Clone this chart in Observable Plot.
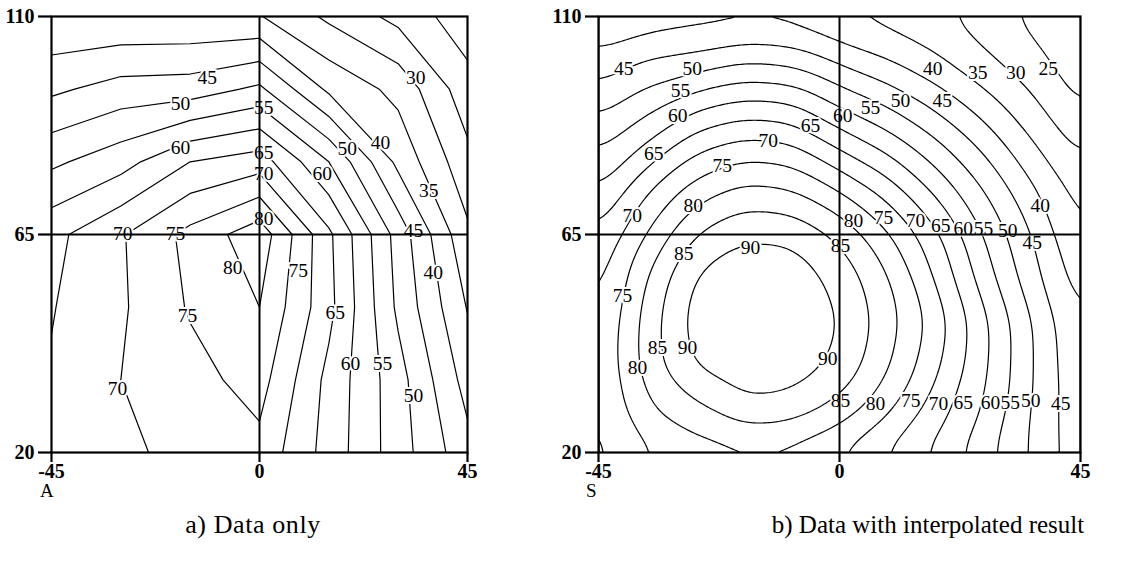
<!DOCTYPE html>
<html><head><meta charset="utf-8">
<script src="https://cdn.jsdelivr.net/npm/d3@7"></script>
<script src="https://cdn.jsdelivr.net/npm/@observablehq/plot@0.6"></script>
<style>
html,body{margin:0;padding:0;background:#fff;}
#wrap{position:relative;width:1124px;height:563px;overflow:hidden;font-family:"Liberation Serif","Times New Roman",serif;color:#000;}
.p{position:absolute;top:0;}
.t{position:absolute;white-space:nowrap;line-height:1;}
</style></head><body>
<div id="wrap">
  <div id="pa" class="p" style="left:0px"></div>
  <div id="pb" class="p" style="left:547px"></div>
  <div class="t" style="left:40px;top:481px;font-size:19px;">A</div>
  <div class="t" style="left:586px;top:481px;font-size:19px;">S</div>
  <div class="t" id="capA" style="left:253px;top:512px;font-size:26px;letter-spacing:0.6px;transform:translateX(-50%);">a) Data only</div>
  <div class="t" id="capB" style="left:928px;top:512px;font-size:25px;transform:translateX(-50%);">b) Data with interpolated result</div>
</div>
<script>
// Axis ticks
const xTicks = [-45, 0, 45];
const yTicks = [20, 65, 110];

// Contour levels
const levelsA = [20, 25, 30, 35, 40, 45, 50, 55, 60, 65, 70, 75, 80];
const levelsB = [15, 20, 25, 30, 35, 40, 45, 50, 55, 60, 65, 70, 75, 80, 85, 90];

// Panel a: measured data (columns x, rows y top to bottom)
const xsA = [-45, -30, -15, 0, 15, 30, 45];
const ysA = [110, 95, 80, 65, 50, 35, 20];
const gridA = [
  [35.5, 35.5, 35.5, 35.3, 29, 23.5, 17],
  [44, 47, 47.5, 51, 39, 33.5, 22],
  [54, 58, 65, 67.5, 55, 38.7, 26.5],
  [63.5, 69.5, 76.5, 83, 66, 48, 31],
  [64.7, 69.3, 75.5, 80, 66.5, 49, 34.7],
  [65.5, 70, 73.2, 77, 63.5, 52, 38],
  [66, 69, 71.5, 73.5, 63, 52.3, 41.7]
];

// Panel b: values
const xsB = [-45, -36, -27, -18, -9, 0, 9, 18, 27, 36, 45];
const ysB = [110, 101, 92, 83, 74, 65, 56, 47, 38, 29, 20];
const gridB = [
  [35.5, 36.5, 37.5, 38, 37.5, 34.5, 33, 31, 27.5, 23.5, 18.5],
  [41.5, 45.4, 46.5, 49.3, 48.3, 43.8, 40, 35.7, 30.8, 27, 21.5],
  [48, 53, 58.3, 61.2, 60.3, 54.1, 49.4, 43.6, 37.3, 31, 24.2],
  [54.3, 60.7, 69, 72.3, 71.2, 64.3, 58.6, 51.7, 44.1, 35.7, 28.7],
  [59.7, 70, 77.5, 81.6, 80.5, 75.1, 68.2, 59, 50.2, 40.9, 32.9],
  [65, 75.3, 85.3, 89.7, 89.3, 84.2, 75.8, 66.5, 54.7, 45, 34.3],
  [67.5, 80.2, 91, 93.2, 93, 88.6, 80.8, 69.5, 57.5, 46.8, 37],
  [69.5, 82.3, 92.5, 94.3, 94, 90.4, 82.3, 73, 61.3, 50, 39.5],
  [70, 82.5, 91, 93.2, 92.8, 89, 80.8, 71.3, 61.1, 50.1, 40.2],
  [69.5, 79.7, 83.8, 89, 88, 83.4, 76.2, 67.5, 59.8, 49.6, 41],
  [68.5, 74.3, 77.3, 78.3, 77.8, 74.5, 69.3, 63.8, 56.8, 49.4, 41.5]
];

// Contour labels (position in data units, text)
const labelsA = [
  {x: -11.3, y: 97.4, t: "45"}, {x: -17.1, y: 92.0, t: "50"}, {x: -17.1, y: 83.0, t: "60"},
  {x: 0.9, y: 91.2, t: "55"}, {x: 0.9, y: 81.9, t: "65"}, {x: 0.9, y: 77.6, t: "70"}, {x: 0.9, y: 68.3, t: "80"},
  {x: 33.8, y: 97.4, t: "30"}, {x: 26.2, y: 84.0, t: "40"}, {x: 19.0, y: 82.8, t: "50"},
  {x: 13.6, y: 77.6, t: "60"}, {x: 36.6, y: 74.1, t: "35"}, {x: 33.3, y: 65.8, t: "45"},
  {x: -29.6, y: 65.2, t: "70"}, {x: -18.2, y: 65.2, t: "75"}, {x: -5.8, y: 58.2, t: "80"},
  {x: -15.6, y: 48.3, t: "75"}, {x: -30.7, y: 33.2, t: "70"},
  {x: 8.4, y: 57.6, t: "75"}, {x: 16.4, y: 48.9, t: "65"}, {x: 19.7, y: 38.4, t: "60"},
  {x: 26.6, y: 38.4, t: "55"}, {x: 33.3, y: 31.8, t: "50"}, {x: 37.6, y: 57.2, t: "40"}
];
const labelsB = [
  {x: -40.3, y: 99.3, t: "45"}, {x: -27.5, y: 99.3, t: "50"}, {x: -29.7, y: 94.7, t: "55"},
  {x: -30.2, y: 89.6, t: "60"}, {x: -34.7, y: 81.7, t: "65"}, {x: -38.7, y: 68.9, t: "70"},
  {x: -21.9, y: 79.2, t: "75"}, {x: -13.3, y: 84.4, t: "70"}, {x: -5.4, y: 87.5, t: "65"},
  {x: -27.3, y: 71.0, t: "80"},
  {x: 17.4, y: 99.3, t: "40"}, {x: 25.8, y: 98.4, t: "35"}, {x: 32.9, y: 98.4, t: "30"},
  {x: 39.0, y: 99.3, t: "25"}, {x: 5.8, y: 91.2, t: "55"}, {x: 11.4, y: 92.7, t: "50"},
  {x: 19.2, y: 92.7, t: "45"}, {x: 0.6, y: 89.6, t: "60"}, {x: 37.5, y: 71.0, t: "40"},
  {x: 2.6, y: 67.9, t: "80"}, {x: 8.2, y: 68.5, t: "75"}, {x: 14.2, y: 67.9, t: "70"},
  {x: 18.9, y: 66.9, t: "65"}, {x: 23.1, y: 66.2, t: "60"}, {x: 26.9, y: 66.2, t: "55"},
  {x: 31.4, y: 65.8, t: "50"}, {x: 36.0, y: 63.3, t: "45"},
  {x: -29.1, y: 61.1, t: "85"}, {x: -16.6, y: 62.3, t: "90"}, {x: 0.2, y: 62.7, t: "85"},
  {x: -40.5, y: 52.4, t: "75"}, {x: -34.0, y: 41.7, t: "85"}, {x: -28.4, y: 41.7, t: "90"},
  {x: -37.7, y: 37.5, t: "80"}, {x: -2.2, y: 39.4, t: "90"},
  {x: 0.2, y: 30.7, t: "85"}, {x: 6.7, y: 30.1, t: "80"}, {x: 13.3, y: 30.7, t: "75"},
  {x: 18.5, y: 30.1, t: "70"}, {x: 23.1, y: 30.3, t: "65"}, {x: 28.2, y: 30.3, t: "60"},
  {x: 31.9, y: 30.3, t: "55"}, {x: 35.7, y: 30.7, t: "50"}, {x: 41.3, y: 30.1, t: "45"}
];

const font = "'Liberation Serif', 'Times New Roman', serif";

function panel(frameWidth, contourMark, labels) {
  return Plot.plot({
    width: 51 + frameWidth + 33,
    height: 490,
    marginLeft: 51, marginRight: 33, marginTop: 16, marginBottom: 38,
    x: {domain: [-45, 45]},
    y: {domain: [20, 110]},
    style: {fontFamily: font, fontSize: "20px", background: "transparent", color: "black", overflow: "visible"},
    marks: [
      contourMark,
      Plot.text(labels, {x: "x", y: "y", text: "t", fontSize: 19.5, fill: "black", stroke: "white", strokeWidth: 4}),
      Plot.ruleX([0], {stroke: "black", strokeWidth: 2}),
      Plot.ruleY([65], {stroke: "black", strokeWidth: 2}),
      Plot.frame({stroke: "black", strokeWidth: 2.2}),
      Plot.axisX(xTicks, {tickSize: 10, tickPadding: 1, strokeWidth: 2.2, fontSize: 20, fontWeight: "bold", label: null, tickFormat: d => String(d)}),
      Plot.axisY(yTicks, {tickSize: 13, tickPadding: 4, strokeWidth: 2.2, fontSize: 20, fontWeight: "bold", label: null, tickFormat: d => String(d)})
    ]
  });
}

// Panel a: raster of measured values, contoured directly
const flatA = gridA.flat();
const stepA = 15;
const contourA = Plot.contour(flatA, {
  width: xsA.length, height: ysA.length,
  x1: xsA[0] - stepA / 2, x2: xsA[xsA.length - 1] + stepA / 2,
  y1: ysA[0] + stepA / 2, y2: ysA[ysA.length - 1] - stepA / 2,
  thresholds: levelsA, stroke: "black", fill: "none", strokeWidth: 1.2, clip: true
});

// Panel b: scattered samples, library interpolation
const pointsB = ysB.flatMap((y, j) => xsB.map((x, i) => ({x, y, v: gridB[j][i]})));
const contourB = Plot.contour(pointsB, {
  x: "x", y: "y", value: "v", interpolate: "barycentric", blur: 7,
  thresholds: levelsB, stroke: "black", fill: "none", strokeWidth: 1.2, clip: true
});

document.getElementById("pa").append(panel(416, contourA, labelsA));
document.getElementById("pb").append(panel(482, contourB, labelsB));
</script>
</body></html>
